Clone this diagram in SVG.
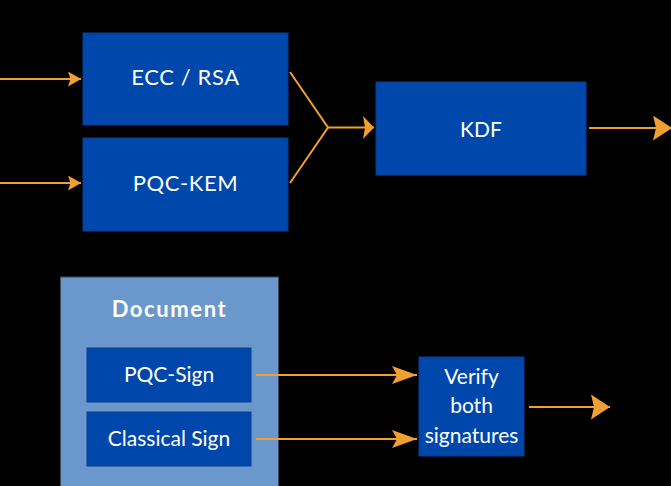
<svg xmlns="http://www.w3.org/2000/svg" width="671" height="486" viewBox="0 0 671 486">
<defs>
<style>
.box{fill:#0047ab;stroke:#0a3f94;stroke-width:1}
.doc{fill:#6a97cc;stroke:#3a4a60;stroke-width:1}
.lbl{font-family:Lato,"Open Sans","Liberation Sans",sans-serif;font-size:21px;fill:#ffffff;text-anchor:middle}
.big{font-size:22px;letter-spacing:0.6px}
.bold{font-weight:bold;font-size:22px;letter-spacing:1.6px}
.conn{fill:none;stroke:#f0a030;stroke-width:2}
</style>
<marker id="arrA" viewBox="0 0 13 15" refX="13" refY="7.5" markerWidth="13" markerHeight="15" markerUnits="userSpaceOnUse" orient="auto">
<path d="M0,0 L13,7.5 L0,15 L2.5,7.5 Z" fill="#f0a030"/>
</marker>
<marker id="arrB" viewBox="0 0 11 23" refX="11" refY="11.5" markerWidth="11" markerHeight="23" markerUnits="userSpaceOnUse" orient="auto">
<path d="M0,0 L11,11.5 L0,23 L2,11.5 Z" fill="#f0a030"/>
</marker>
<marker id="arrC" viewBox="0 0 19 25" refX="19" refY="12.5" markerWidth="19" markerHeight="25" markerUnits="userSpaceOnUse" orient="auto">
<path d="M0,0 L19,12.5 L0,25 L3,12.5 Z" fill="#f0a030"/>
</marker>
<marker id="arrD" viewBox="0 0 25 18" refX="25" refY="9" markerWidth="25" markerHeight="18" markerUnits="userSpaceOnUse" orient="auto">
<path d="M0,0 L25,9 L0,18 L5,9 Z" fill="#f0a030"/>
</marker>
</defs>
<rect width="671" height="486" fill="#000000"/>
<g id="ecc">
<rect class="box" x="83" y="33" width="205" height="92"/>
<text class="lbl big" x="185.5" y="85">ECC / RSA</text>
</g>
<g id="pqckem">
<rect class="box" x="83" y="138" width="205" height="93"/>
<text class="lbl big" x="185.5" y="191">PQC-KEM</text>
</g>
<g id="kdf">
<rect class="box" x="376" y="82" width="210" height="93"/>
<text class="lbl" x="481" y="137">KDF</text>
</g>
<g id="document">
<rect class="doc" x="60.5" y="277" width="218" height="215"/>
<text class="lbl bold" x="169.5" y="317">Document</text>
</g>
<g id="pqcsign">
<rect class="box" x="87" y="348" width="164" height="54"/>
<text class="lbl" x="169" y="382">PQC-Sign</text>
</g>
<g id="classical">
<rect class="box" x="87" y="412" width="164" height="54"/>
<text class="lbl" x="169" y="446">Classical Sign</text>
</g>
<g id="verify">
<rect class="box" x="419" y="357" width="105" height="99"/>
<text class="lbl" x="471.5" y="384">Verify</text>
<text class="lbl" x="471.5" y="413">both</text>
<text class="lbl" x="471.5" y="443">signatures</text>
</g>
<g id="connectors">
<line class="conn" x1="0" y1="79" x2="81" y2="79" marker-end="url(#arrA)"/>
<line class="conn" x1="0" y1="183" x2="81" y2="183" marker-end="url(#arrA)"/>
<polyline class="conn" points="290,72 328,127.5 290,183"/>
<line class="conn" x1="328" y1="127.5" x2="374" y2="127.5" marker-end="url(#arrB)"/>
<line class="conn" x1="589" y1="128" x2="672" y2="128" marker-end="url(#arrC)"/>
<line class="conn" x1="256" y1="375" x2="417" y2="375" marker-end="url(#arrD)"/>
<line class="conn" x1="256" y1="439" x2="417" y2="439" marker-end="url(#arrD)"/>
<line class="conn" x1="529" y1="407" x2="610" y2="407" marker-end="url(#arrC)"/>
</g>
</svg>
